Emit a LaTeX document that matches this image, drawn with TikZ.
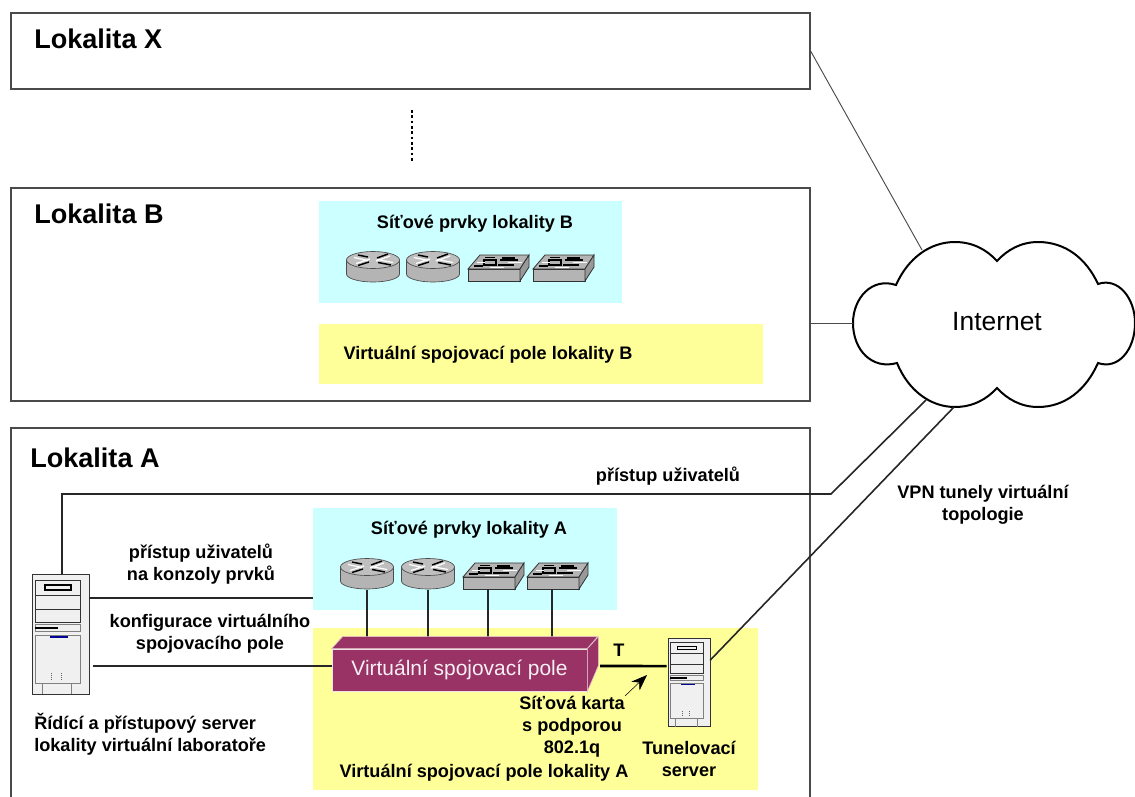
\documentclass[tikz,border=0pt]{standalone}
\usepackage{fontspec}
\setmainfont{Liberation Sans}
\usetikzlibrary{arrows.meta}
\definecolor{zonecyan}{HTML}{CCFFFF}
\definecolor{zoneyellow}{HTML}{FFFF99}
\definecolor{vspmagenta}{HTML}{993366}
\definecolor{boxgray}{HTML}{4A4A4A}
\definecolor{devgray}{HTML}{B4B4B4}
\definecolor{srvgray}{HTML}{F0F0F0}
\tikzset{
  sized/.style 2 args={minimum width=#1*0.75pt, minimum height=#2*0.75pt, inner sep=0pt},
  lokbox/.style={draw=boxgray, line width=0.9pt, fill=white},
  zone/.style={fill=#1},
  loktitle/.style={font=\fontsize{20.3}{22}\selectfont\bfseries, anchor=west, inner sep=0pt},
  lbl/.style={font=\fontsize{13.6}{16.5}\selectfont\bfseries, align=center, inner sep=0pt},
  lbll/.style={lbl, align=left, anchor=west},
  wan/.style={draw=boxgray, line width=0.7pt},
  wire/.style={draw=black!85, line width=1.2pt},
  router/.pic={
    \draw[black!70, fill=devgray, line width=0.5pt] (-26.5,-7) -- (-26.5,7) arc[start angle=180, end angle=0, x radius=26.5, y radius=8] -- (26.5,-7) -- cycle;
    \draw[black!70, fill=devgray!85, line width=0.5pt] (0,-7) ellipse[x radius=26.5, y radius=8.5];
    \draw[black, line width=1.1pt] (4,-9) -- (15,-13) (-4,-5) -- (-15,-1.5) (5,-4.5) -- (18,-2) (-5,-10) -- (-15,-12);
    \draw[white, line width=0.9pt] (-3,-8) -- (-17,-3.5) (3,-6) -- (17,-11) (-5,-6.5) -- (-19,-9.5) (4,-7.5) -- (20,-4.5);
    \coordinate (-bot) at (0,16);
  },
  switchdev/.pic={
    \draw[black!80, fill=devgray, line width=0.6pt] (0,14) -- (12,0) -- (61,0) -- (52,14) -- cycle;
    \draw[black!80, fill=devgray, line width=0.6pt] (0,14) rectangle (52,26);
    \draw[black!80, fill=devgray!85!black, line width=0.6pt] (52,14) -- (61,0) -- (61,12) -- (52,26) -- cycle;
    \draw[black, line width=1pt] (16,5) rectangle (28,10) (32,5) -- (50,5) (30,10) -- (46,10);
    \fill[black] (34,1.5) rectangle (47,4.5);
    \draw[black, line width=1pt] (6,11) -- (15,11) (17,2.5) -- (27,2.5);
    \draw[white, line width=0.7pt] (9,7.5) -- (17,7.5) (40,7.5) -- (54,7.5) (22,12) -- (36,12);
    \coordinate (-bot) at (25,26);
  },
  server/.pic={
    \draw[black!80, fill=srvgray, line width=0.7pt] (0,0) rectangle (57,120);
    \draw[black!80, fill=srvgray, line width=0.7pt] (3,6) rectangle (48,48);
    \draw[black!80, line width=0.6pt] (3,21) -- (48,21) (3,35) -- (48,35);
    \draw[black, fill=srvgray, line width=0.9pt] (13,11) rectangle (39,16);
    \draw[black!50, fill=srvgray, line width=0.5pt] (3,50) rectangle (48,57);
    \fill[black] (3,53) rectangle (26,55);
    \draw[black!50, fill=srvgray, line width=0.6pt] (3,61) rectangle (48,109);
    \fill[blue!60!black] (18,62) rectangle (36,64);
    \draw[black!50, line width=0.5pt] (10,109) -- (10,120) (39,109) -- (39,120);
    \foreach \px in {19,29}{\draw[black!60, densely dotted, line width=0.4pt] (\px,99) -- (\px,106);}
    \coordinate (-top) at (30,0);
    \coordinate (-e1) at (57,24);
    \coordinate (-e2) at (57,92);
    \coordinate (-w) at (0,38);
    \coordinate (-e3) at (57,30);
  }
}

\begin{document}
\begin{tikzpicture}[x=0.75pt, y=-0.75pt]
  \clip (0,0) rectangle (1135,796);
  \fill[white] (0,0) rectangle (1135,796);

  % lokality
  \node[lokbox, sized={799}{76}] (lokX) at (410.5,51) {};
  \node[lokbox, sized={799}{213}] (lokB) at (410.5,294.5) {};
  \node[lokbox, sized={799}{420}] (lokA) at (410.5,638) {};
  \node[loktitle] (titX) at (34,39) {Lokalita X};
  \node[loktitle] (titB) at (34,214) {Lokalita B};
  \node[loktitle] (titA) at (30,458) {Lokalita A};
  \coordinate (dotsT) at (412,110);
  \coordinate (dotsB) at (412,163);
  \draw[black, line width=2pt, dash pattern=on 2pt off 2pt] (dotsT) -- (dotsB);

  % barevne plochy
  \node[zone=zonecyan, sized={303}{102}] (cyanB) at (470.5,252) {};
  \node[zone=zoneyellow, sized={444}{60}] (yelB) at (541,354) {};
  \node[zone=zonecyan, sized={304}{102}] (cyanA) at (465,559) {};
  \node[zone=zoneyellow, sized={445}{162}] (yelA) at (535.5,709) {};
  \node[lbl] (lblCyanB) at (475,224) {Síťové prvky lokality B};
  \node[lbl] (lblYelB) at (488,355) {Virtuální spojovací pole lokality B};
  \node[lbl] (lblCyanA) at (469,530) {Síťové prvky lokality A};
  \node[lbl] (lblYelA) at (484,773) {Virtuální spojovací pole lokality A};

  % prvky lokality B
  \pic (rtB1) at (373,267) {router};
  \pic (rtB2) at (433,267) {router};
  \pic (swB1) at (468,255) {switchdev};
  \pic (swB2) at (533,255) {switchdev};

  % prvky lokality A
  \pic (rtA1) at (367,574) {router};
  \pic (rtA2) at (428,574) {router};
  \pic (swA1) at (463,563) {switchdev};
  \pic (swA2) at (527,563) {switchdev};

  % virtualni spojovaci pole
  \coordinate (vspTop) at (459,637);
  \coordinate (vspOut) at (600,666);
  \foreach \dev in {rtA1,rtA2,swA1,swA2}{\draw[wire] (\dev-bot) -- (\dev-bot |- vspTop);}
  \node[fill=vspmagenta, draw=white!85!vspmagenta, line width=0.6pt, sized={255}{42}, text=white!92!vspmagenta, font=\fontsize{15.7}{18}\selectfont] (vsp) at (459.5,670) {Virtuální spojovací pole};
  \draw[fill=vspmagenta, draw=white!70!vspmagenta, line width=0.5pt] (vsp.north west) -- ++(11,-12) -- ++(255,0) -- (vsp.north east) -- cycle;
  \draw[fill=vspmagenta, draw=white!70!vspmagenta, line width=0.5pt] (vsp.north east) -- ++(11,-12) -- ++(0,29) -- (vsp.south east) -- cycle;

  % servery
  \pic (srvR) at (32,574) {server};
  \pic[scale=0.74] (srvT) at (668,638) {server};
  \draw[wire] (srvR-e1) -- (srvR-e1 -| cyanA.west);
  \draw[wire, shorten <=3pt] (srvR-e2) -- (srvR-e2 -| vsp.west);
  \draw[black, line width=2pt, shorten >=1pt] (vspOut) -- (srvT-w);
  \node[lbl] (lblT) at (619,650) {T};
  \node[lbl] (lblKons) at (201,564.5) {přístup uživatelů\\na konzoly prvků};
  \node[lbl] (lblKonf) at (210,634) {konfigurace virtuálního\\spojovacího pole};
  \node[lbll] (lblSrvR) at (34,734) {Řídící a přístupový server\\lokality virtuální laboratoře};
  \node[lbl] (lblKarta) at (572,727) {Síťová karta\\s podporou\\802.1q};
  \node[lbl] (lblSrvT) at (689,759) {Tunelovací\\server};
  \coordinate (kartaTip) at (647,675);
  \draw[-{Stealth[length=12pt, width=9pt]}, black, line width=0.4pt] (625,696) -- (kartaTip);

  % Internet
  \draw[black, line width=1.5pt, fill=white] (853,323)
    .. controls (853,298) and (872,277) .. (896,285)
    .. controls (908,258) and (930,242) .. (955,242)
    .. controls (973,242) and (987,250) .. (997,261)
    .. controls (1007,250) and (1021,242) .. (1038,242)
    .. controls (1065,242) and (1086,258) .. (1098,284)
    .. controls (1118,277) and (1135,298) .. (1135,323)
    .. controls (1135,350) and (1118,370) .. (1098,363)
    .. controls (1086,390) and (1065,407) .. (1038,407)
    .. controls (1021,407) and (1007,399) .. (997,388)
    .. controls (987,399) and (973,407) .. (955,407)
    .. controls (930,407) and (908,390) .. (897,363)
    .. controls (872,370) and (853,350) .. (853,323) -- cycle;
  \node[font=\fontsize{19.8}{22}\selectfont, inner sep=0pt] (inet) at (997,322) {Internet};
  \coordinate (cloudN) at (922,250);
  \coordinate (cloudW) at (853,323);
  \coordinate (cloudS1) at (926,400);
  \coordinate (cloudS2) at (954,407);
  \coordinate (usrBend) at (831,494);

  % spoje do Internetu
  \draw[wan] (lokX.east) -- (cloudN);
  \draw[wan] (lokB.east |- cloudW) -- (cloudW);
  \draw[wire] (srvR-top) |- (usrBend) -- (cloudS1);
  \draw[wire] (srvT-e3) -- (cloudS2);
  \node[lbl] (lblUsr) at (668,476) {přístup uživatelů};
  \node[lbl] (lblVpn) at (983,505) {VPN tunely virtuální\\topologie};
\end{tikzpicture}
\end{document}
